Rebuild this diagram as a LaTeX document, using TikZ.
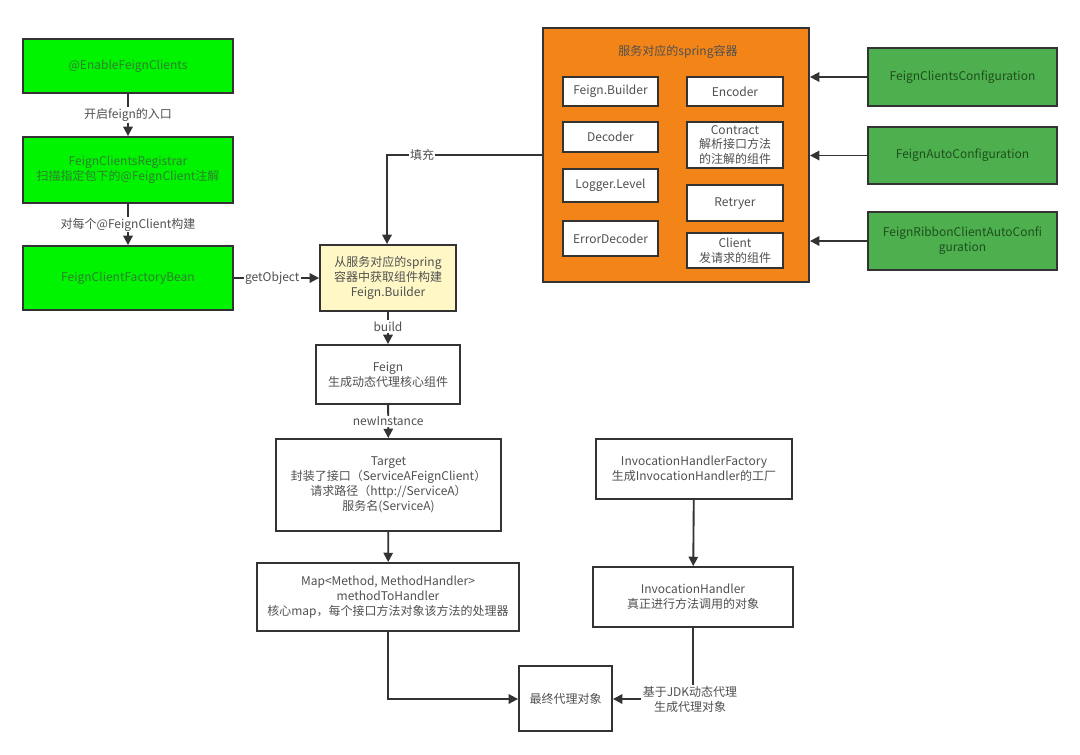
\documentclass[tikz,border=0pt]{standalone}
\usepackage{fontspec}
\setmainfont{Noto Sans CJK SC}
\usetikzlibrary{arrows.meta}
\definecolor{lime}{HTML}{00F400}
\definecolor{limetext}{HTML}{2F7F2F}
\definecolor{mgreen}{HTML}{4DAF4D}
\definecolor{mgreentext}{HTML}{1F4F1F}
\definecolor{orangec}{HTML}{F28418}
\definecolor{yel}{HTML}{FFF8C6}
\definecolor{bord}{HTML}{333333}
\definecolor{txt}{HTML}{505050}
\newcommand\bx[7]{%
 \pgfmathsetmacro\bxw{(#4-#2)*0.75}%
 \pgfmathsetmacro\bxh{(#5-#3)*0.75}%
 \node[#6, minimum width=\bxw pt, minimum height=\bxh pt] (#1) at ({(#2+#4)/2},{(#3+#5)/2}) {#7};}
\tikzset{
 base/.style={draw=bord, line width=1.4pt, align=center, inner sep=0pt, font=\fontsize{9pt}{11.2pt}\selectfont, text=txt},
 limebox/.style={base, fill=lime, text=limetext},
 gbox/.style={base, fill=mgreen, text=mgreentext},
 wbox/.style={base, fill=white},
 ybox/.style={base, fill=yel},
 obox/.style={base, fill=orangec, draw=bord},
 ibox/.style={base, fill=white, draw=bord, line width=1.1pt},
 conn/.style={draw=bord, line width=1.4pt, -{Triangle[length=7pt,width=7pt]}},
 lbl/.style={fill=white, inner sep=1pt, text=txt, font=\fontsize{9pt}{11.2pt}\selectfont, align=center},
}
\begin{document}
\begin{tikzpicture}[x=0.75pt,y=-0.75pt]
\useasboundingbox (0,0) rectangle (1080,754);
% left column
\bx{en}{23}{39}{233}{93}{limebox}{@EnableFeignClients}
\bx{reg}{23}{137}{233}{203}{limebox}{FeignClientsRegistrar\\扫描指定包下的@FeignClient注解}
\bx{fcb}{23}{246}{233}{310}{limebox}{FeignClientFactoryBean}
% orange container
\bx{spring}{543}{28}{809}{282}{obox}{}
\node[font=\fontsize{9pt}{11.2pt}\selectfont, text=txt] (stitle) at (678,52) {服务对应的spring容器};
\bx{fb}{563}{77}{658}{106}{ibox}{Feign.Builder}
\bx{enc}{687}{77}{783}{106}{ibox}{Encoder}
\bx{dec}{563}{122}{658}{152}{ibox}{Decoder}
\bx{con}{687}{122}{783}{168}{ibox}{Contract\\解析接口方法\\的注解的组件}
\bx{log}{563}{169}{658}{202}{ibox}{Logger.Level}
\bx{ret}{687}{185}{783}{221}{ibox}{Retryer}
\bx{edec}{563}{221}{658}{256}{ibox}{ErrorDecoder}
\bx{cli}{687}{233}{783}{268}{ibox}{Client\\发请求的组件}
% right green
\bx{fcc}{868}{48}{1057}{106}{gbox}{FeignClientsConfiguration}
\bx{fac}{868}{127}{1057}{184}{gbox}{FeignAutoConfiguration}
\bx{frc}{868}{212}{1057}{270}{gbox}{FeignRibbonClientAutoConfi\\guration}
% middle column
\bx{yb}{320}{245}{456}{311}{ybox}{从服务对应的spring\\容器中获取组件构建\\Feign.Builder}
\bx{feign}{316}{345}{460}{404}{wbox}{Feign\\生成动态代理核心组件}
\bx{tgt}{276}{439}{501}{531}{wbox}{Target\\封装了接口（ServiceAFeignClient）\\请求路径（http://ServiceA）\\服务名(ServiceA)}
\bx{map}{257}{563}{519}{631}{wbox}{Map<Method, MethodHandler>\\methodToHandler\\核心map，每个接口方法对象该方法的处理器}
\bx{fin}{519}{666}{612}{731}{wbox}{最终代理对象}
\bx{ihf}{596}{439}{792}{499}{wbox}{InvocationHandlerFactory\\生成InvocationHandler的工厂}
\bx{ih}{593}{567}{793}{627}{wbox}{InvocationHandler\\真正进行方法调用的对象}
% coordinates
\coordinate (fillc) at (387,155);
\coordinate (mapc) at (388,699);
\coordinate (ihc) at (693,699);
% connectors
\draw[conn] (en) -- node[lbl] {开启feign的入口} (reg);
\draw[conn] (reg) -- node[lbl] {对每个@FeignClient构建} (fcb);
\draw[conn] (fcb.east |- yb.west) -- node[lbl, pos=0.45] {getObject} (yb.west);
\draw[conn] (spring.west |- fillc) -- (fillc) -- (fillc |- yb.north);
\node[lbl] (filllbl) at (422,155) {填充};
\draw[conn] (fcc.west) -- (fcc.west -| spring.east);
\draw[conn] (fac.west) -- (fac.west -| spring.east);
\draw[conn] (frc.west) -- (frc.west -| spring.east);
\draw[conn] (yb) -- node[lbl, pos=0.45] {build} (feign);
\draw[conn] (feign) -- node[lbl, pos=0.5] {newInstance} (tgt);
\draw[conn] (tgt) -- (map);
\draw[conn] (map.south) -- (mapc) -- (fin.west |- mapc);
\draw[conn] (ihf) -- (ih);
\draw[conn] (ih.south -| ihc) -- (ihc) -- (fin.east |- ihc);
\node[lbl] (jdk) at (690,699) {基于JDK动态代理\\生成代理对象};
\end{tikzpicture}
\end{document}
